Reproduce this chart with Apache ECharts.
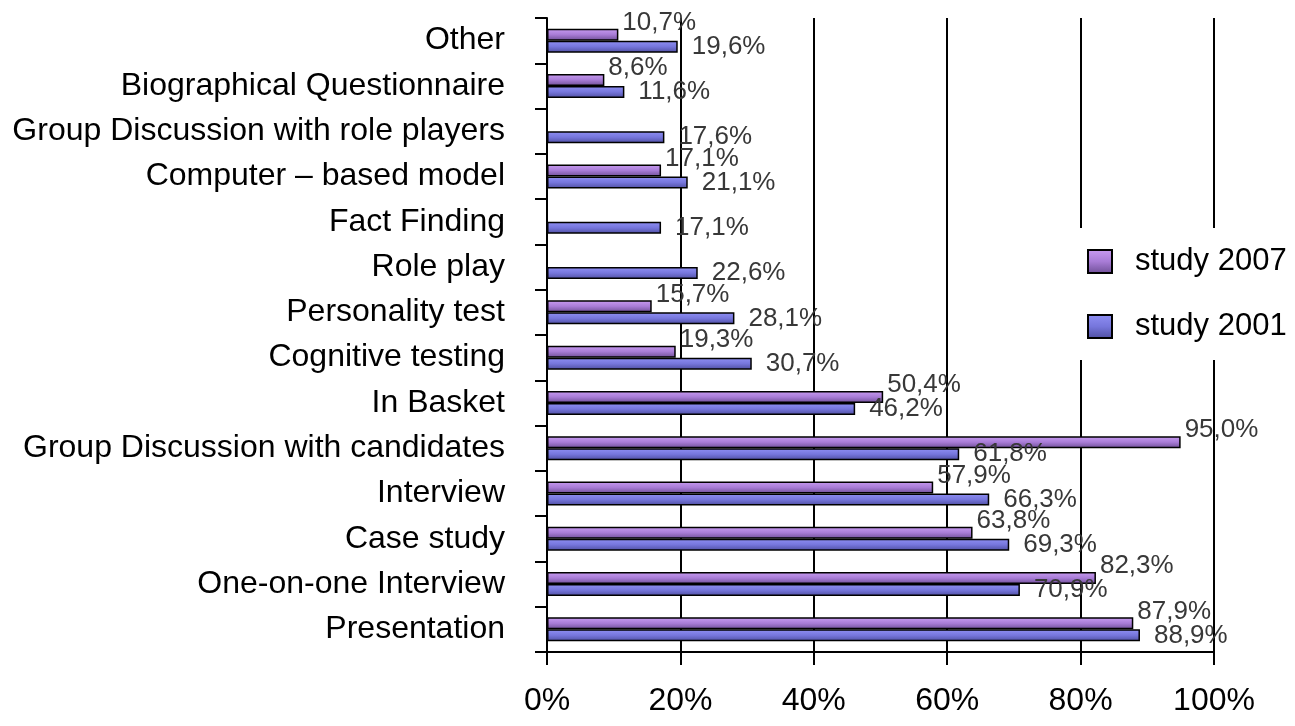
<!DOCTYPE html>
<html>
<head>
<meta charset="utf-8">
<script src="https://cdn.jsdelivr.net/npm/echarts@6/dist/echarts.min.js"></script>
<style>
html, body { margin: 0; padding: 0; background: #fff; }
#chart { width: 1295px; height: 726px; }
</style>
</head>
<body>
<div id="chart"></div>
<script>
// categories bottom -> top
var categories = [
    'Presentation',
    'One-on-one Interview',
    'Case study',
    'Interview',
    'Group Discussion with candidates',
    'In Basket',
    'Cognitive testing',
    'Personality test',
    'Role play',
    'Fact Finding',
    'Computer \u2013 based model',
    'Group Discussion with role players',
    'Biographical Questionnaire',
    'Other'
];
var study2007 = [87.9, 82.3, 63.8, 57.9, 95.0, 50.4, 19.3, 15.7, null, null, 17.1, null, 8.6, 10.7];
var study2001 = [88.9, 70.9, 69.3, 66.3, 61.8, 46.2, 30.7, 28.1, 22.6, 17.1, 21.1, 17.6, 11.6, 19.6];
var xTicks = [0, 20, 40, 60, 80, 100];

var fontFamily = 'Liberation Sans, Arial, sans-serif';

function grad(c0, c1, c2) {
    return new echarts.graphic.LinearGradient(0, 0, 0, 1, [
        { offset: 0, color: c0 },
        { offset: 0.5, color: c1 },
        { offset: 1, color: c2 }
    ]);
}
var purple = grad('#c99cf2', '#a87cd6', '#6e4e96');
var blue = grad('#9090f4', '#7676dc', '#4e4ea0');

function fmt(p) {
    return p.value.toFixed(1).replace('.', ',') + '%';
}

var chartDom = document.getElementById('chart');
var myChart = echarts.init(chartDom);
var option = {
    animation: false,
    textStyle: { fontFamily: fontFamily },
    grid: { left: 547, right: 81, top: 18, bottom: 74, containLabel: false },
    legend: {
        orient: 'vertical',
        left: 1075,
        top: 228,
        padding: [18, 20, 18, 12],
        backgroundColor: '#fff',
        itemWidth: 24,
        itemHeight: 23,
        itemGap: 34,
        icon: 'rect',
        data: ['study 2007', 'study 2001'],
        textStyle: { fontSize: 31, color: '#000', fontFamily: fontFamily, padding: [0, 0, 0, 18] }
    },
    xAxis: {
        type: 'value',
        min: xTicks[0],
        max: xTicks[xTicks.length - 1],
        interval: 20,
        axisLine: { show: true, lineStyle: { color: '#000', width: 2 } },
        axisTick: { show: true, length: 13, lineStyle: { color: '#000', width: 2 } },
        axisLabel: { formatter: '{value}%', fontSize: 32, color: '#000', margin: 33 },
        splitLine: { show: true, lineStyle: { color: '#000', width: 2 } }
    },
    yAxis: {
        type: 'category',
        data: categories,
        axisLine: { show: true, lineStyle: { color: '#000', width: 2 } },
        axisTick: { show: true, length: 12, lineStyle: { color: '#000', width: 2 } },
        axisLabel: { fontSize: 32, color: '#000', margin: 42 }
    },
    series: [
        {
            name: 'study 2007',
            type: 'bar',
            data: study2007,
            barWidth: 12,
            barGap: '0%',
            itemStyle: { color: purple, borderColor: '#000', borderWidth: 1.5 },
            label: {
                show: true, position: 'right', distance: 4, offset: [0, -12],
                fontSize: 26, color: '#383838', formatter: fmt
            }
        },
        {
            name: 'study 2001',
            type: 'bar',
            data: study2001,
            barWidth: 12,
            barGap: '0%',
            itemStyle: { color: blue, borderColor: '#000', borderWidth: 1.5 },
            label: {
                show: true, position: 'right', distance: 4, offset: [10, 0],
                fontSize: 26, color: '#383838', formatter: fmt
            }
        }
    ]
};
option && myChart.setOption(option);
</script>
</body>
</html>
